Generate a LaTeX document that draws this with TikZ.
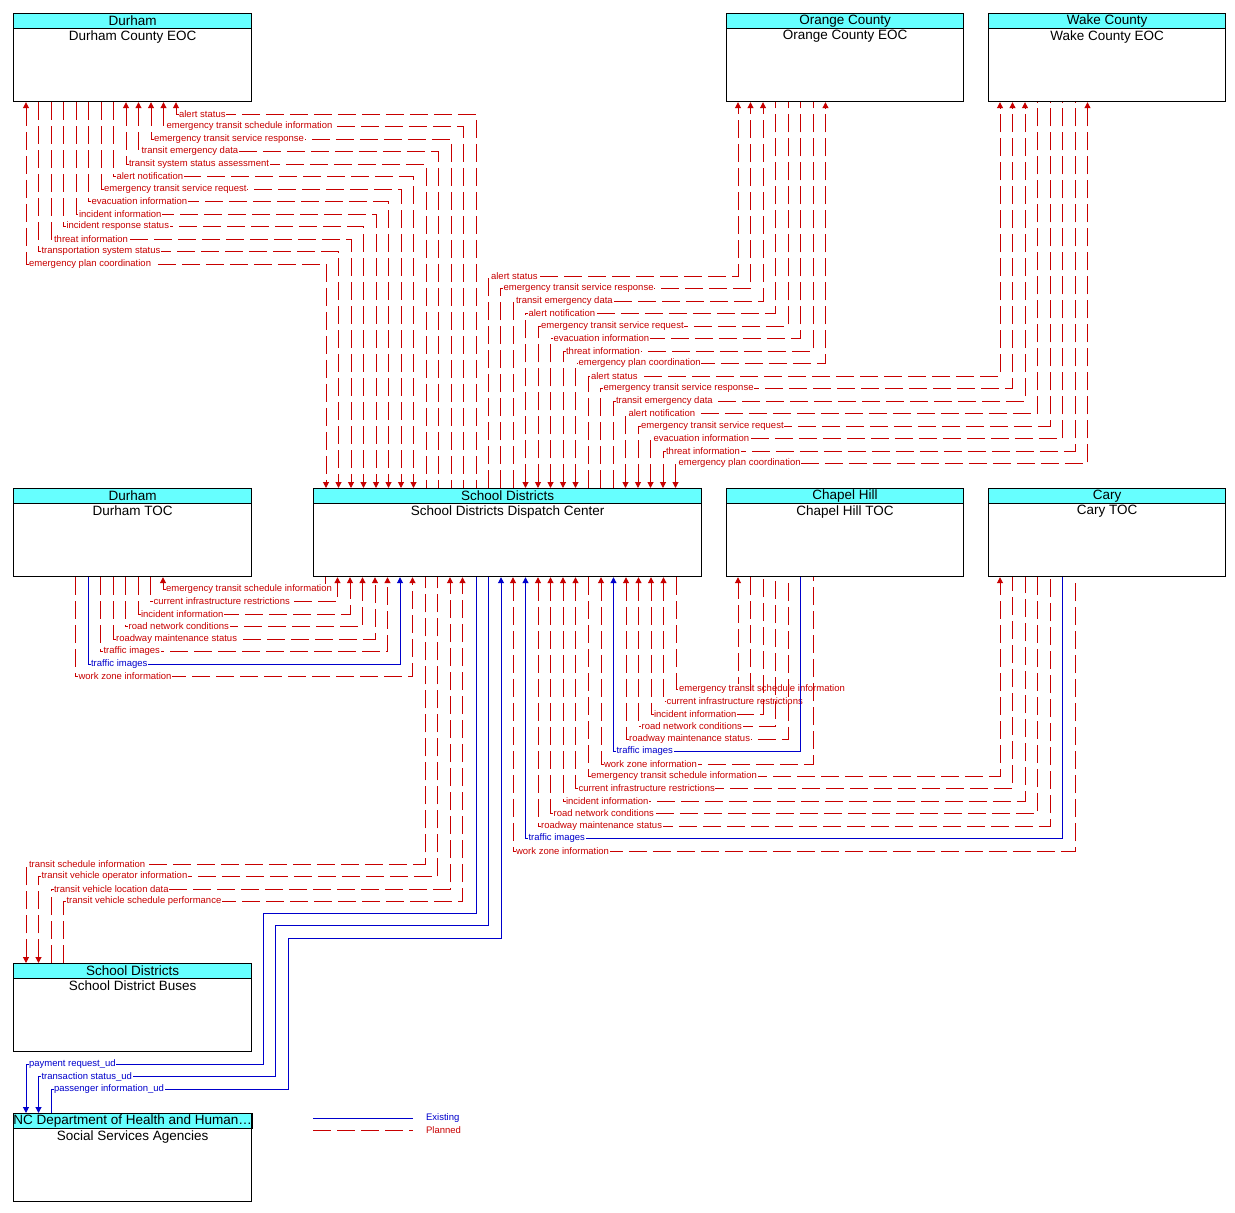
\documentclass[tikz,border=0pt]{standalone}
\usepackage{fontspec}
\setmainfont{Liberation Sans}
\usetikzlibrary{arrows.meta}
\definecolor{plancol}{RGB}{200,0,0}
\definecolor{existcol}{RGB}{0,0,204}
\definecolor{headcol}{RGB}{102,255,255}
\tikzset{
  box/.style={draw, line width=1.2pt, fill=white, minimum height=88pt, inner sep=0pt},
  head/.style={draw, line width=1.2pt, fill=headcol, minimum height=15pt, inner sep=0pt,
    font=\fontsize{13.5}{14}\selectfont},
  title/.style={anchor=north, inner sep=0pt, yshift=-1pt, font=\fontsize{13.5}{14}\selectfont},
  planned/.style={draw=plancol, text=plancol, line width=1pt, dash pattern=on 18pt off 6pt},
  existing/.style={draw=existcol, text=existcol, line width=1pt},
  lbl/.style={anchor=west, xshift=2pt, fill=white, draw=none, inner sep=0.6pt,
    font=\fontsize{9.5}{10}\selectfont},
  >={Triangle[length=6pt,width=6pt]}
}
% system box: name, x, y, width, header, title
\newcommand{\sysbox}[6]{%
  \node[box, anchor=north west, minimum width=#4pt] (#1) at (#2,#3) {};
  \node[head, anchor=north, minimum width=#4pt] (#1h) at (#1.north) {#5};
  \node[title] at (#1h.south) {#6};}
% flow: [style] xL anchorL y xR anchorR label arrows
\newcommand{\flow}[8][planned]{%
  \draw[#1,#8] (#2,0 |- #3) -- (#2,#4) -- (#5,#4) -- (#5,0 |- #6);
  \node[lbl,#1,draw=none] at (#2,#4) {#7};}
\begin{document}
\begin{tikzpicture}[x=1pt,y=-1pt]
\useasboundingbox (0,0) rectangle (1235,1213);

\sysbox{deoc}{13}{13}{238}{Durham}{Durham County EOC}
\sysbox{oeoc}{726}{13}{237}{Orange County}{Orange County EOC}
\sysbox{weoc}{988}{13}{237}{Wake County}{Wake County EOC}
\sysbox{dtoc}{13}{488}{238}{Durham}{Durham TOC}
\sysbox{sdc}{313}{488}{388}{School Districts}{School Districts Dispatch Center}
\sysbox{chtoc}{726}{488}{237}{Chapel Hill}{Chapel Hill TOC}
\sysbox{ctoc}{988}{488}{237}{Cary}{Cary TOC}
\sysbox{bus}{13}{963}{238}{School Districts}{School District Buses}
\sysbox{nc}{13}{1113}{238}{NC Department of Health and Human\dots}{Social Services Agencies}

% Durham County EOC
\foreach \i/\t/\a in {0/alert status/<-, 1/emergency transit schedule information/<-,
  2/emergency transit service response/<-, 3/transit emergency data/<-,
  4/transit system status assessment/<-, 5/alert notification/->,
  6/emergency transit service request/->, 7/evacuation information/->,
  8/incident information/->, 9/incident response status/->,
  10/threat information/->, 11/transportation system status/->,
  12/emergency plan coordination/<->}{
  \pgfmathsetmacro\xl{176-12.5*\i}
  \pgfmathsetmacro\yr{114+12.5*\i}
  \pgfmathsetmacro\xr{476-12.5*\i}
  \flow{\xl}{deoc.south}{\yr}{\xr}{sdc.north}{\t}{\a}
}

% Orange County EOC
\foreach \i/\t/\a in {0/alert status/->, 1/emergency transit service response/->,
  2/transit emergency data/->, 3/alert notification/<-,
  4/emergency transit service request/<-, 5/evacuation information/<-,
  6/threat information/<-, 7/emergency plan coordination/<->}{
  \pgfmathsetmacro\xl{488+12.5*\i}
  \pgfmathsetmacro\yr{276+12.5*\i}
  \pgfmathsetmacro\xr{738+12.5*\i}
  \flow{\xl}{sdc.north}{\yr}{\xr}{oeoc.south}{\t}{\a}
}

% Wake County EOC
\foreach \i/\t/\a in {0/alert status/->, 1/emergency transit service response/->,
  2/transit emergency data/->, 3/alert notification/<-,
  4/emergency transit service request/<-, 5/evacuation information/<-,
  6/threat information/<-, 7/emergency plan coordination/<->}{
  \pgfmathsetmacro\xl{588+12.5*\i}
  \pgfmathsetmacro\yr{376+12.5*\i}
  \pgfmathsetmacro\xr{1000+12.5*\i}
  \flow{\xl}{sdc.north}{\yr}{\xr}{weoc.south}{\t}{\a}
}

% Durham TOC
\foreach \i/\t/\a/\s in {0/emergency transit schedule information/<-/planned,
  1/current infrastructure restrictions/->/planned, 2/incident information/->/planned,
  3/road network conditions/->/planned, 4/roadway maintenance status/->/planned,
  5/traffic images/->/planned, 6/traffic images/->/existing,
  7/work zone information/->/planned}{
  \pgfmathsetmacro\xl{163-12.5*\i}
  \pgfmathsetmacro\yr{589+12.5*\i}
  \pgfmathsetmacro\xr{325+12.5*\i}
  \flow[\s]{\xl}{dtoc.south}{\yr}{\xr}{sdc.south}{\t}{\a}
}

% Chapel Hill TOC
\foreach \i/\t/\a/\s in {0/emergency transit schedule information/->/planned,
  1/current infrastructure restrictions/<-/planned, 2/incident information/<-/planned,
  3/road network conditions/<-/planned, 4/roadway maintenance status/<-/planned,
  5/traffic images/<-/existing, 6/work zone information/<-/planned}{
  \pgfmathsetmacro\xl{676-12.5*\i}
  \pgfmathsetmacro\yr{689+12.5*\i}
  \pgfmathsetmacro\xr{738+12.5*\i}
  \flow[\s]{\xl}{sdc.south}{\yr}{\xr}{chtoc.south}{\t}{\a}
}

% Cary TOC
\foreach \i/\t/\a/\s in {0/emergency transit schedule information/->/planned,
  1/current infrastructure restrictions/<-/planned, 2/incident information/<-/planned,
  3/road network conditions/<-/planned, 4/roadway maintenance status/<-/planned,
  5/traffic images/<-/existing, 6/work zone information/<-/planned}{
  \pgfmathsetmacro\xl{588-12.5*\i}
  \pgfmathsetmacro\yr{776+12.5*\i}
  \pgfmathsetmacro\xr{1000+12.5*\i}
  \flow[\s]{\xl}{sdc.south}{\yr}{\xr}{ctoc.south}{\t}{\a}
}

% School District Buses
\foreach \i/\t/\a in {0/transit schedule information/<-,
  1/transit vehicle operator information/<-, 2/transit vehicle location data/->,
  3/transit vehicle schedule performance/->}{
  \pgfmathsetmacro\xl{26+12.5*\i}
  \pgfmathsetmacro\yr{864+12.5*\i}
  \pgfmathsetmacro\xr{425+12.5*\i}
  \flow{\xl}{bus.north}{\yr}{\xr}{sdc.south}{\t}{\a}
}

% Social Services Agencies
\draw[existing,->] (476,0 |- sdc.south) -- (476,913) -- (263,913) -- (263,1064)
  -- (26,1064) -- (26,0 |- nc.north);
\node[lbl,existing,draw=none] at (26,1064) {payment request\_ud};
\draw[existing,->] (488.5,0 |- sdc.south) -- (488.5,925.5) -- (275.5,925.5) -- (275.5,1076.5)
  -- (38.5,1076.5) -- (38.5,0 |- nc.north);
\node[lbl,existing,draw=none] at (38.5,1076.5) {transaction status\_ud};
\draw[existing,<-] (501,0 |- sdc.south) -- (501,938) -- (288,938) -- (288,1089)
  -- (51,1089) -- (51,0 |- nc.north);
\node[lbl,existing,draw=none] at (51,1089) {passenger information\_ud};

% legend
\draw[existing] (313,1118) -- (413,1118);
\node[lbl,existing,draw=none,fill=none] at (423,1118.5) {Existing};
\draw[planned] (313,1130) -- (413,1130);
\node[lbl,planned,draw=none,fill=none] at (423,1130.5) {Planned};
\end{tikzpicture}
\end{document}
